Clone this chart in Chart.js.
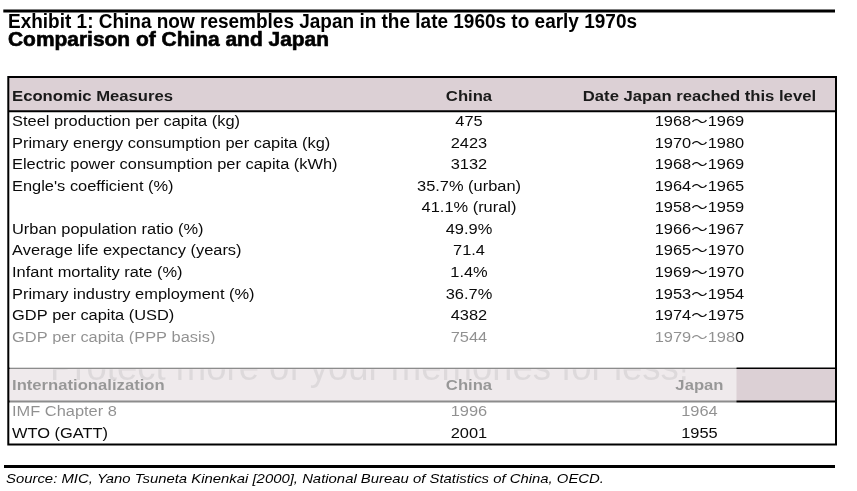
<!DOCTYPE html>
<html><head><meta charset="utf-8">
<style>html,body{margin:0;padding:0;background:#fff;overflow:hidden}#wrap{position:relative;width:857px;height:491px}</style>
<script src="https://cdn.jsdelivr.net/npm/chart.js"></script>
</head><body><div id="wrap"><canvas id="c" width="857" height="491"></canvas></div>
<script>
// ---- content ----
const titleMain = 'Exhibit 1: China now resembles Japan in the late 1960s to early 1970s';
const titleSub = 'Comparison of China and Japan';
const sourceNote = 'Source: MIC, Yano Tsuneta Kinenkai [2000], National Bureau of Statistics of China, OECD.';
const econHeaders = ['Economic Measures', 'China', 'Date Japan reached this level'];
const measures = ['Steel production per capita (kg)', 'Primary energy consumption per capita (kg)',
  'Electric power consumption per capita (kWh)', "Engle's coefficient (%)", '',
  'Urban population ratio (%)', 'Average life expectancy (years)', 'Infant mortality rate (%)',
  'Primary industry employment (%)', 'GDP per capita (USD)', 'GDP per capita (PPP basis)'];
const chinaValues = ['475', '2423', '3132', '35.7% (urban)', '41.1% (rural)', '49.9%', '71.4', '1.4%', '36.7%', '4382', '7544'];
const japanDates = ['1968～1969', '1970～1980', '1968～1969', '1964～1965', '1958～1959', '1966～1967',
  '1965～1970', '1969～1970', '1953～1954', '1974～1975', '1979～1980'];
const intlHeaders = ['Internationalization', 'China', 'Japan'];
const intlItems = ['IMF Chapter 8', 'WTO (GATT)'];
const intlChina = ['1996', '2001'];
const intlJapan = ['1964', '1955'];
const watermarkText = 'Protect more of your memories for less!';

// ---- layout ----
const W = 857, H = 491;
const TBL_L = 8.3, TBL_R = 836, TBL_T = 77, TBL_B = 444.5;
const ROW0 = 126, STEP = 21.57;
const toRow = px => (px - ROW0) / STEP;
const COL_LABEL = 0.45, COL_CHINA = 55.66, COL_JAPAN = 83.5;
const HEAD1_Y = toRow(100.5), HEAD1_BOT = toRow(111.2);
const HEAD2_TOP = toRow(368.3), HEAD2_Y = toRow(390), HEAD2_BOT = toRow(401.5);
const INTL_ROW0 = toRow(416.3), INTL_STEP = 21.8 / STEP;
const FONT = '"Liberation Sans", Arial, Helvetica, "Noto Sans CJK JP", sans-serif';
const BODY_FONT = '14px ' + FONT, HEAD_FONT = 'bold 14px ' + FONT;
const MAUVE = '#dcd0d5';

function fitScale(c, font, str, target) { c.save(); c.font = font; const w = c.measureText(str).width; c.restore(); return target / w; }
function drawText(c, str, x, y, font, sx, align, color) {
  c.save(); c.font = font; c.fillStyle = color; c.textAlign = align; c.textBaseline = 'alphabetic';
  c.translate(x, y); c.scale(sx, 1); c.fillText(str, 0, 0); c.restore();
}
function hline(c, x1, x2, y, lw, color) { c.save(); c.strokeStyle = color; c.lineWidth = lw; c.beginPath(); c.moveTo(x1, y); c.lineTo(x2, y); c.stroke(); c.restore(); }

function column(texts, col, rowOf, kind, align) {
  return { label: kind + col, data: texts.map((t, i) => ({ x: col, y: rowOf(i) })), texts, kind, align, pointRadius: 0, showLine: false };
}
const econRow = i => i, intlRow = i => INTL_ROW0 + i * INTL_STEP;
const headCols = [COL_LABEL, COL_CHINA, COL_JAPAN];
const datasets = [
  { label: 'econHead', data: econHeaders.map((t, i) => ({ x: headCols[i], y: HEAD1_Y })), texts: econHeaders, kind: 'head', align: 'mixed', pointRadius: 0 },
  column(measures, COL_LABEL, econRow, 'body', 'left'),
  column(chinaValues, COL_CHINA, econRow, 'body', 'center'),
  column(japanDates, COL_JAPAN, econRow, 'body', 'center'),
  { label: 'intlHead', data: intlHeaders.map((t, i) => ({ x: headCols[i], y: HEAD2_Y })), texts: intlHeaders, kind: 'head', align: 'mixed', pointRadius: 0 },
  column(intlItems, COL_LABEL, intlRow, 'body', 'left'),
  column(intlChina, COL_CHINA, intlRow, 'body', 'center'),
  column(intlJapan, COL_JAPAN, intlRow, 'body', 'center')
];

const tablePlugin = {
  id: 'tableDraw',
  beforeDraw(chart) {
    const c = chart.ctx, ys = chart.scales.y, a = chart.chartArea;
    c.save();
    c.fillStyle = '#fff'; c.fillRect(0, 0, W, H);
    hline(c, 3.3, 835, 11, 3, '#000');
    const f1 = 'bold 19.5px ' + FONT, f2 = 'bold 19.5px ' + FONT;
    drawText(c, titleMain, 8, 28, f1, fitScale(c, f1, titleMain, 629), 'left', '#000');
    c.save(); c.font = f2; const s2 = fitScale(c, f2, titleSub, 321);
    c.translate(8, 46.3); c.scale(s2, 1); c.fillStyle = '#000'; c.strokeStyle = '#000'; c.lineWidth = 0.6;
    c.textBaseline = 'alphabetic'; c.fillText(titleSub, 0, 0); c.strokeText(titleSub, 0, 0); c.restore();
    // header backgrounds
    c.fillStyle = MAUVE;
    c.fillRect(a.left, a.top, a.right - a.left, ys.getPixelForValue(HEAD1_BOT) - a.top);
    const h2t = ys.getPixelForValue(HEAD2_TOP), h2b = ys.getPixelForValue(HEAD2_BOT);
    c.fillRect(a.left, h2t, a.right - a.left, h2b - h2t);
    hline(c, a.left, a.right, ys.getPixelForValue(HEAD1_BOT), 2, '#000');
    hline(c, a.left, a.right, h2t, 1.6, '#000');
    hline(c, a.left, a.right, h2b, 2, '#000');
    c.restore();
  },
  afterDatasetsDraw(chart) {
    const c = chart.ctx, ys = chart.scales.y, a = chart.chartArea;
    const sxBody = fitScale(c, BODY_FONT, measures[0], 228);
    const sxHead = fitScale(c, HEAD_FONT, econHeaders[0], 161);
    chart.data.datasets.forEach((ds, k) => {
      const meta = chart.getDatasetMeta(k);
      meta.data.forEach((el, i) => {
        const t = ds.texts[i]; if (!t) return;
        const align = ds.align === 'mixed' ? (i === 0 ? 'left' : 'center') : ds.align;
        if (ds.kind === 'head') drawText(c, t, el.x, el.y, HEAD_FONT, sxHead, align, '#1a1a1a');
        else drawText(c, t, el.x, el.y, BODY_FONT, sxBody, align, '#0a0a0a');
      });
    });
    const h2t = ys.getPixelForValue(HEAD2_TOP), h2b = ys.getPixelForValue(HEAD2_BOT);
    // watermark, only visible on the header band
    c.save();
    c.beginPath(); c.rect(9.5, h2t + 1, 727, h2b - h2t - 2); c.closePath(); c.clip();
    c.font = '36.5px ' + FONT; c.fillStyle = '#b4acb0'; c.textBaseline = 'alphabetic'; c.textAlign = 'left';
    c.fillText(watermarkText, 50, 380);
    c.restore();
    c.save(); c.fillStyle = '#fff'; c.fillRect(9.5, 344, 727, h2t - 0.9 - 344); c.restore();
    // faded band
    c.save();
    c.fillStyle = 'rgba(255,255,255,0.55)';
    c.fillRect(9.5, 326, 727, 423 - 326);
    c.restore();
    // table frame
    c.save(); c.strokeStyle = '#000'; c.lineWidth = 2;
    c.strokeRect(a.left, a.top, a.right - a.left, a.bottom - a.top); c.restore();
    // footer
    hline(c, 4, 835, 466.5, 3, '#000');
    const fs = 'italic 13px ' + FONT;
    drawText(c, sourceNote, 6, 482.5, fs, fitScale(c, fs, sourceNote, 598), 'left', '#000');
  }
};

new Chart(document.getElementById('c').getContext('2d'), {
  type: 'scatter',
  data: { datasets },
  options: {
    responsive: false, animation: false, events: [],
    layout: { padding: { left: TBL_L, right: W - TBL_R, top: TBL_T, bottom: H - TBL_B } },
    scales: {
      x: { type: 'linear', min: 0, max: 100, display: false },
      y: { type: 'linear', reverse: true, min: toRow(TBL_T), max: toRow(TBL_B), display: false }
    },
    plugins: { legend: { display: false }, tooltip: { enabled: false } },
    elements: { point: { radius: 0, hoverRadius: 0 } }
  },
  plugins: [tablePlugin]
});
</script></body></html>
